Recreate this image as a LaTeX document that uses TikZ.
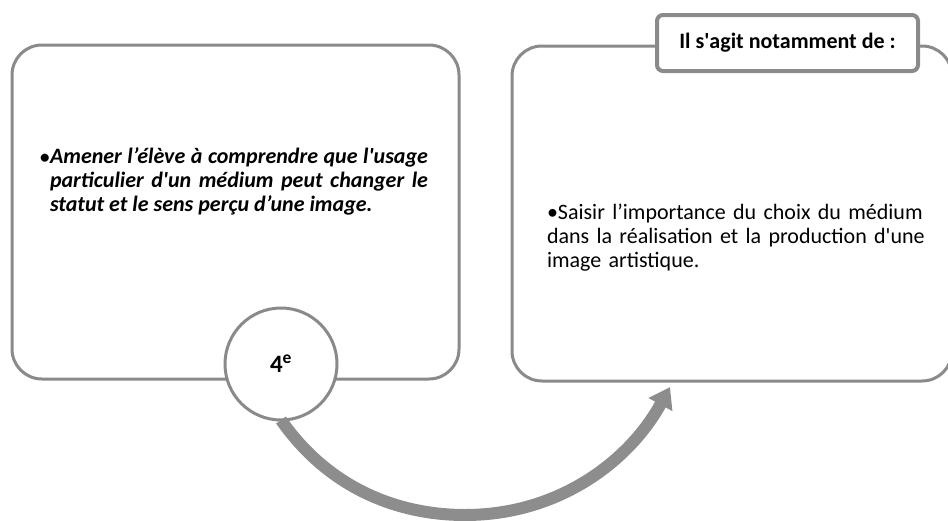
\documentclass[tikz,border=0pt]{standalone}
\usepackage{fontspec}
\setmainfont{Carlito}
\usetikzlibrary{arrows.meta}
\definecolor{framegray}{RGB}{138,138,138}
\definecolor{arrowgray}{RGB}{141,141,141}

\begin{document}
\begin{tikzpicture}[x=1pt,y=-1pt,
  every node/.style={outer sep=0pt, inner sep=0pt},
  bigbox/.style={draw=framegray, line width=3pt, fill=white, rounded corners=30pt},
  tagbox/.style={draw=framegray, line width=4pt, fill=white, rounded corners=6pt,
    font=\fontsize{22}{24}\selectfont\bfseries},
  levelcirc/.style={circle, draw=framegray, line width=3pt, fill=white,
    minimum size=112pt, font=\fontsize{25}{26}\selectfont\bfseries},
  bodytext/.style={anchor=north west, font=\fontsize{22}{24}\selectfont}]
\useasboundingbox (0,0) rectangle (948,520);
\clip (0,0) rectangle (948,520);

% Two big boxes
\node[bigbox, minimum width=447pt, minimum height=334pt] (leftbox) at (235.5,212) {};
\node[bigbox, minimum width=440pt, minimum height=335pt] (rightbox) at (732,213.5) {};

% Texts inside the boxes
\node[bodytext, text width=378pt, align=justify] (lefttext) at (50,148)
  {\bfseries\itshape\llap{\makebox[10pt][l]{\upshape\fontsize{19}{19}\selectfont•}}Amener l’élève à comprendre que l\textquotesingle usage\linebreak
   particulier d\textquotesingle un médium peut changer le\linebreak
   statut et le sens perçu d’une image.};
\node[bodytext, text width=385pt, align=left] (righttext) at (547,204)
  {•Saisir l’importance du choix du médium\\
   dans la réalisation et la production d\textquotesingle une\\
   image artistique.};

% Tag on top of the right box
\node[tagbox, minimum width=261pt, minimum height=56pt] (tag) at (787.5,43)
  {Il s\textquotesingle agit notamment de :};

% Level circle
\node[levelcirc] (level) at (281,364) {4\textsuperscript{e}};

% Curved arrow
\coordinate (tip) at (670,387);
\draw[arrowgray, line width=12pt, -{Triangle[length=20pt,width=26pt]}]
  (level.south) .. controls (330,490) and (400,515) .. (465,515)
  .. controls (560,515) and (630,460) .. (tip);
\end{tikzpicture}
\end{document}
